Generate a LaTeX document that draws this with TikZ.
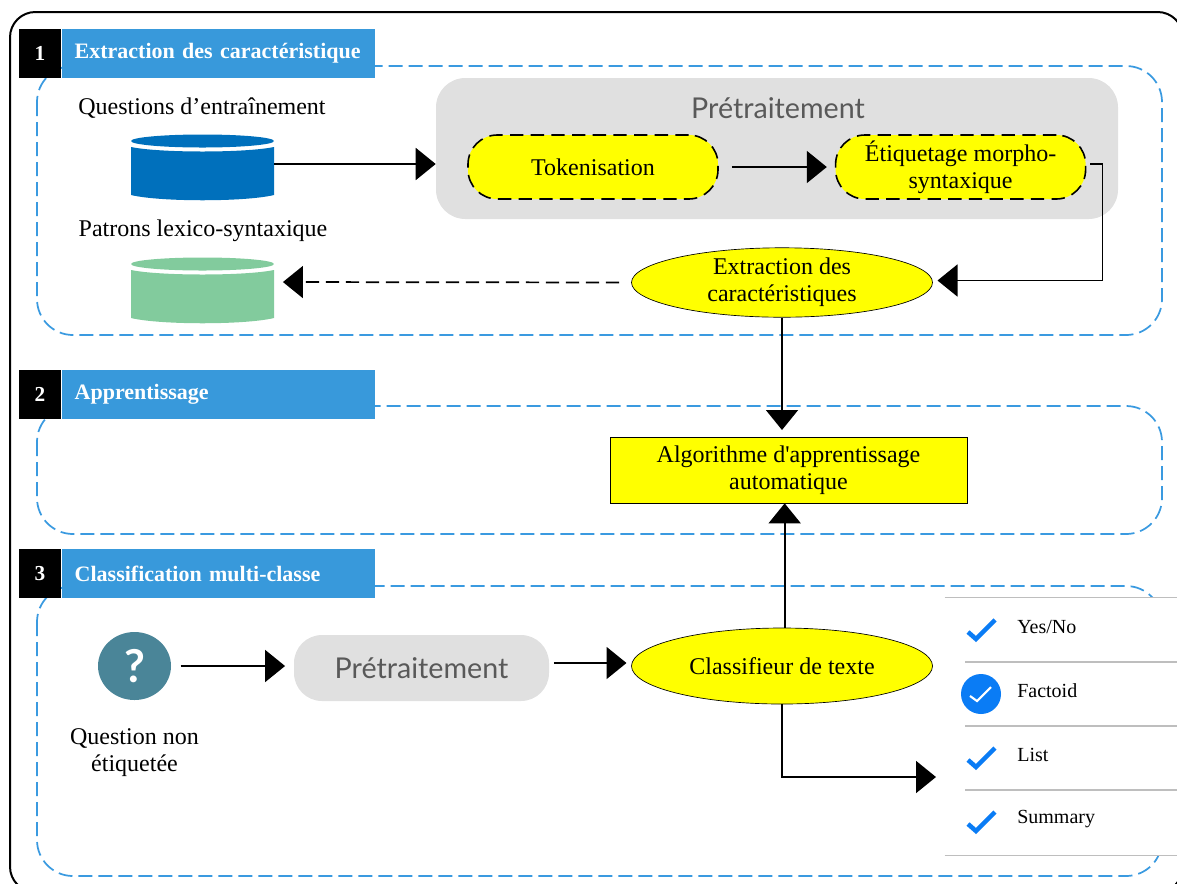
\documentclass[tikz,border=0pt]{standalone}
\usepackage{fontspec}
\defaultfontfeatures[\rmfamily]{}
\setmainfont{Liberation Serif}
\newfontfamily\latofont{Lato}
\usetikzlibrary{shapes,arrows.meta,positioning}

\definecolor{headblue}{HTML}{3899DB}
\definecolor{dashblue}{HTML}{3A9AE0}
\definecolor{basegreen}{HTML}{82CB9D}
\definecolor{baseblue}{HTML}{0070BC}
\definecolor{checkblue}{HTML}{0A7CF5}
\definecolor{softgray}{HTML}{E0E0E0}
\definecolor{titlegray}{HTML}{595959}
\definecolor{icongreen}{HTML}{4A8598}
\definecolor{stepyellow}{HTML}{FFFF00}

\begin{document}
\begin{tikzpicture}[x=0.75pt, y=-0.75pt, node distance=1.0cm, auto]
    % Define block styles
    \tikzstyle{normaltext} = [font=\fontsize{18}{20.5}\selectfont, align=center, inner sep=0pt]
    \tikzstyle{block} = [normaltext, rectangle, draw=black, line width=0.5pt, fill=stepyellow, minimum width=267.75pt, minimum height=49.5pt]
    \tikzstyle{stepblock} = [normaltext, rectangle, draw=black, dash pattern=on 10pt off 5.5pt, line width=1.2pt, fill=stepyellow, rounded corners=22pt, minimum width=187.5pt, minimum height=48pt]
    \tikzstyle{oval} = [normaltext, ellipse, draw=black, line width=0.5pt, fill=stepyellow, minimum width=225.75pt]
    \tikzstyle{softbox} = [rectangle, fill=softgray, text=titlegray, inner sep=0pt, font=\latofont\fontsize{21.5}{24}\selectfont]
    \tikzstyle{zone} = [draw=dashblue, line width=1.3pt, dash pattern=on 10.5pt off 4.5pt, rounded corners=27pt]
    \tikzstyle{number} = [rectangle, fill=black, text=white, inner sep=0pt, minimum width=31.5pt, minimum height=36.75pt, font=\bfseries\fontsize{16}{18}\selectfont]
    \tikzstyle{heading} = [rectangle, fill=headblue, text=white, inner sep=0pt, minimum width=234.75pt, minimum height=36.75pt, text width=215pt, align=left, font=\bfseries\fontsize{16.5}{18}\selectfont]
    \tikzstyle{database} = [rectangle, inner sep=0pt, minimum width=107.25pt, minimum height=45pt]
    \tikzstyle{line} = [draw, line width=1.3pt, -{Triangle[length=15pt, width=24pt]}]
    \tikzstyle{typetext} = [font=\fontsize{15}{17}\selectfont, inner sep=0pt, anchor=west]
    \tikzstyle{checkmark} = [draw=checkblue, line width=3.4pt]

    \useasboundingbox (0,0) rectangle (1177,883);

    % Outer frame
    \begin{scope}
        \clip (0,0) rectangle (1177,883);
        \draw [line width=1.5pt, rounded corners=19pt] (10,12) rectangle (1183,892);
    \end{scope}

    % Zones
    \draw [zone] (37,66) rectangle (1162,335);
    \draw [zone] (37,406) rectangle (1162,534);
    \draw [zone] (37,586) rectangle (1162,876);

    % Headings
    \node [number] (Number_One) at (40,53.5) {1};
    \node [heading, right=0pt of Number_One] (Head_One) {Extraction des caractéristique};
    \node [number] (Number_Two) at (40,394) {2};
    \node [heading, right=0pt of Number_Two] (Head_Two) {Apprentissage};
    \node [number] (Number_Three) at (40,573.5) {3};
    \node [heading, right=0pt of Number_Three] (Head_Three) {Classification multi-classe};

    % Databases
    \node [normaltext] (Train_Label) at (202,108) {Questions d’entraînement};
    \node [database] (Train_DB) at (202.5,164) {};
    \node [normaltext] (Patron_Label) at (203,231) {Patrons lexico-syntaxique};
    \node [database] (Patron_DB) at (202.5,282) {};
    \foreach \ytop/\fillcol in {141/baseblue, 264/basegreen} {
        \fill [\fillcol] (202.5,\ytop) ellipse [x radius=71.5, y radius=6.5];
        \fill [\fillcol] (131,\ytop+6) .. controls (160,\ytop+12) and (245,\ytop+12) .. (274,\ytop+6)
            -- (274,\ytop+54) .. controls (245,\ytop+61) and (160,\ytop+61) .. (131,\ytop+54) -- cycle;
    }

    % Preprocessing
    \node [softbox, rounded corners=22pt, minimum width=511.5pt, minimum height=105.75pt] (Pre_Box) at (777,148.5) {};
    \node [softbox, anchor=center] (Pre_Title) at (778,108) {Prétraitement};
    \node [stepblock] (Tokenisation) at (593,167) {Tokenisation};
    \node [stepblock, right=87pt of Tokenisation] (Etiquetage) {Étiquetage morpho-\\syntaxique};

    % Yellow steps
    \node [oval, minimum height=52pt] (Extraction) at (782,282.5) {Extraction des\\caractéristiques};
    \node [block] (Algorithme) at (788.5,470) {Algorithme d'apprentissage\\automatique};
    \node [oval, minimum height=57pt] (Classifieur) at (782,666) {Classifieur de texte};

    % Third row
    \node [ellipse, fill=icongreen, text=white, inner sep=0pt, minimum width=54.75pt, minimum height=51pt, font=\latofont\bfseries\fontsize{34}{36}\selectfont] (Question_Icon) at (134.5,666) {?};
    \node [normaltext, below=21pt of Question_Icon] (Question_Label) {Question non\\étiquetée};
    \node [softbox, rounded corners=21pt, minimum width=191.25pt, minimum height=49.5pt] (Pre_Small) at (421.5,668) {Prétraitement};

    % Answer types
    \node [rectangle, fill=white, inner sep=0pt, minimum width=174pt, minimum height=192.75pt] (Types_Panel) at (1061,726.5) {};
    \draw [softgray!85!black, line width=0.9pt] (Types_Panel.north west) -- (Types_Panel.north east);
    \draw [softgray!85!black, line width=0.9pt] (Types_Panel.south west) -- (Types_Panel.south east);
    \foreach \yline in {662,726,790} {
        \draw [softgray!85!black, line width=0.9pt] (965,\yline) -- (1177,\yline);
    }
    \node [typetext] (Yes_No) at (1017,627) {Yes/No};
    \node [typetext] (Factoid) at (1017,691) {Factoid};
    \node [typetext] (List) at (1017,755) {List};
    \node [typetext] (Summary) at (1017,819) {Summary};
    \foreach \yshift in {0,128,192} {
        \draw [checkmark] (968,632+\yshift) -- (976,639+\yshift) -- (995,620+\yshift);
    }
    \fill [checkblue] (981,694) circle [radius=20];
    \draw [white, line width=1.6pt] (970,696) -- (977,701) -- (991,687);
    \coordinate (Types_In) at (936,777);

    % Arrows
    \path [line] (Train_DB.east) -- (Train_DB.east -| Pre_Box.west);
    \path [line, shorten <=13pt*0.75, shorten >=8pt*0.75] (Tokenisation.east) -- (Etiquetage.west);
    \path [line, shorten <=3pt, shorten >=3.5pt] ([yshift=2pt]Etiquetage.east) -- ++(16,0) |- ([yshift=1.5pt]Extraction.east);
    \path [line, dash pattern=on 10pt off 5pt, shorten <=9pt, shorten >=6.5pt] (Extraction.west) -- (Patron_DB.east);
    \path [line, shorten >=5pt] (Extraction.south) -- (Extraction.south |- Algorithme.north);
    \path [line] ([xshift=2pt]Classifieur.north) -- ([xshift=2pt]Classifieur.north |- Algorithme.south);
    \path [line] (Classifieur.south) |- (Types_In);
    \path [line, shorten <=7pt, shorten >=6.5pt] (Question_Icon.east) -- (Question_Icon.east -| Pre_Small.west);
    \path [line, shorten <=3.5pt, shorten >=3.5pt] ([yshift=3.75pt]Pre_Small.east) -- ([yshift=3.75pt]Pre_Small.east -| Classifieur.west);

\end{tikzpicture}
\end{document}
